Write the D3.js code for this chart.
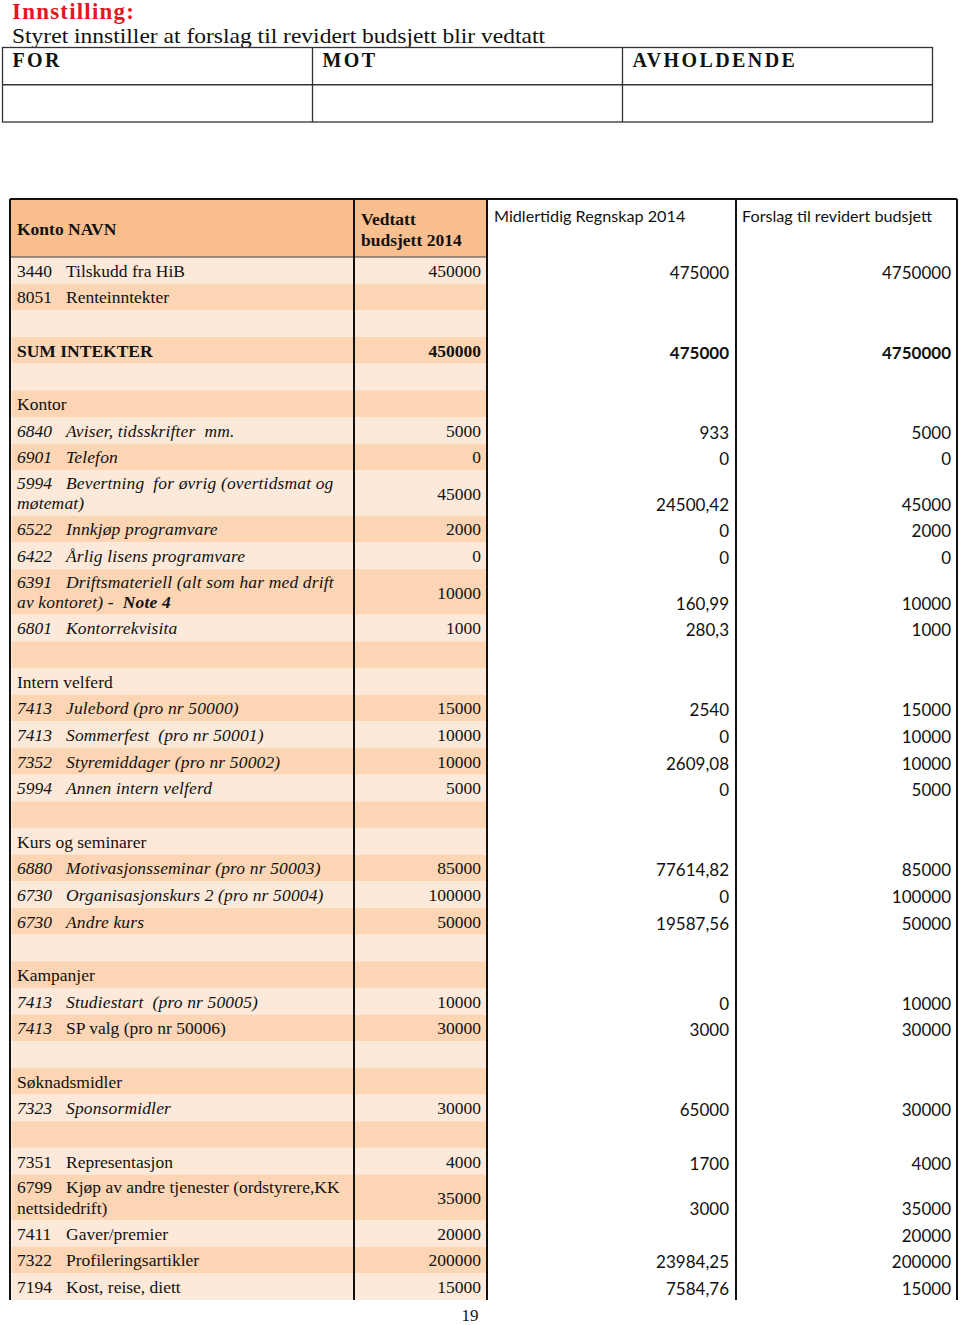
<!DOCTYPE html>
<html>
<head>
<meta charset="utf-8">
<script src="https://cdn.jsdelivr.net/npm/d3@7"></script>
<style>
  body { margin: 0; background: #fff; }
  svg text { white-space: pre; }
</style>
</head>
<body>
<svg id="page"></svg>
<script>
// --- data ---
const title = "Innstilling:";
const subtitle = "Styret innstiller at forslag til revidert budsjett blir vedtatt";
const voteLabels = ["FOR", "MOT", "AVHOLDENDE"];
const headers = ["Konto NAVN", "Vedtatt\nbudsjett 2014", "Midlertidig Regnskap 2014", "Forslag til revidert budsjett"];

const codes = ["3440", "8051", "", "", "", "",
  "6840", "6901", "5994", "6522", "6422", "6391", "6801", "", "",
  "7413", "7413", "7352", "5994", "", "",
  "6880", "6730", "6730", "", "",
  "7413", "7413", "", "",
  "7323", "",
  "7351", "6799", "7411", "7322", "7194"];

const names = ["Tilskudd fra HiB", "Renteinntekter", "", "SUM INTEKTER", "", "Kontor",
  "Aviser, tidsskrifter  mm.", "Telefon", "Bevertning  for øvrig (overtidsmat og\nmøtemat)",
  "Innkjøp programvare", "Årlig lisens programvare",
  "Driftsmateriell (alt som har med drift\nav kontoret) -  |Note 4", "Kontorrekvisita", "", "Intern velferd",
  "Julebord (pro nr 50000)", "Sommerfest  (pro nr 50001)", "Styremiddager (pro nr 50002)", "Annen intern velferd", "", "Kurs og seminarer",
  "Motivasjonsseminar (pro nr 50003)", "Organisasjonskurs 2 (pro nr 50004)", "Andre kurs", "", "Kampanjer",
  "Studiestart  (pro nr 50005)", "SP valg (pro nr 50006)", "", "Søknadsmidler",
  "Sponsormidler", "",
  "Representasjon", "Kjøp av andre tjenester (ordstyrere,KK\nnettsidedrift)", "Gaver/premier", "Profileringsartikler", "Kost, reise, diett"];

const vedtatt = [450000, null, null, 450000, null, null,
  5000, 0, 45000, 2000, 0, 10000, 1000, null, null,
  15000, 10000, 10000, 5000, null, null,
  85000, 100000, 50000, null, null,
  10000, 30000, null, null,
  30000, null,
  4000, 35000, 20000, 200000, 15000];

const midlertidig = [475000, null, null, 475000, null, null,
  933, 0, 24500.42, 0, 0, 160.99, 280.3, null, null,
  2540, 0, 2609.08, 0, null, null,
  77614.82, 0, 19587.56, null, null,
  0, 3000, null, null,
  65000, null,
  1700, 3000, null, 23984.25, 7584.76];

const forslag = [4750000, null, null, 4750000, null, null,
  5000, 0, 45000, 2000, 0, 10000, 1000, null, null,
  15000, 10000, 10000, 5000, null, null,
  85000, 100000, 50000, null, null,
  10000, 30000, null, null,
  30000, null,
  4000, 35000, 20000, 200000, 15000];

const pageNumber = "19";

// --- styling per row: n normal, i italic, c italic code only, b bold ---
const rowStyle = ["n", "n", "n", "b", "n", "n",
  "i", "i", "i", "i", "i", "i", "i", "n", "n",
  "i", "i", "i", "i", "n", "n",
  "i", "i", "i", "n", "n",
  "i", "c", "n", "n",
  "i", "n",
  "n", "n", "n", "n", "n"];

const W = 960, H = 1325;
const serif = "'Liberation Serif', 'Times New Roman', serif";
const sans = "Lato, 'Open Sans', sans-serif";
const bandLight = "#fde9d9", bandDark = "#fcd5b4", headFill = "#fabf8f";

const svg = d3.select("#page").attr("width", W).attr("height", H);

const fmt = v => v == null ? "" : String(v).replace(".", ",");

// top title
svg.append("text").attr("x", 12).attr("y", 19)
  .attr("font-family", serif).attr("font-size", 23).attr("font-weight", "bold")
  .attr("fill", "#e0191f").attr("letter-spacing", 1.2).text(title);
svg.append("text").attr("x", 12).attr("y", 43)
  .attr("font-family", serif).attr("font-size", 21).attr("fill", "#111")
  .attr("textLength", 533).attr("lengthAdjust", "spacingAndGlyphs").text(subtitle);

// vote table
const vx = d3.scaleBand().domain(voteLabels).range([2.5, 932.5]);
const vy = d3.scaleLinear().domain([0, 2]).range([47.5, 122]);
const vote = svg.append("g").attr("stroke", "#333").attr("stroke-width", 1.3).attr("fill", "none");
vote.append("rect").attr("x", vx.range()[0]).attr("y", vy(0))
  .attr("width", vx.range()[1] - vx.range()[0]).attr("height", vy(2) - vy(0));
vote.append("line").attr("x1", vx.range()[0]).attr("x2", vx.range()[1]).attr("y1", vy(1)).attr("y2", vy(1));
voteLabels.slice(1).forEach(l => vote.append("line").attr("x1", vx(l)).attr("x2", vx(l)).attr("y1", vy(0)).attr("y2", vy(2)));
svg.append("g").selectAll("text").data(voteLabels).join("text")
  .attr("x", d => vx(d) + 10).attr("y", 67)
  .attr("font-family", serif).attr("font-size", 20).attr("font-weight", "bold")
  .attr("letter-spacing", 2.4).attr("fill", "#111").text(d => d);

// main table geometry
const colEdges = [10, 354, 487, 736, 957];
const tableTop = 199, headBottom = 257, tableBottom = 1300;
const lineCount = names.map(n => n.split("\n").length);
const units = lineCount.map(c => c > 1 ? 1.707 : 1);
const ends = Array.from(d3.cumsum(units));
const starts = [0].concat(ends.slice(0, -1));
const y = d3.scaleLinear().domain([0, d3.sum(units)]).range([headBottom, tableBottom]);
const rows = names.map((n, i) => ({i, top: y(starts[i]), bottom: y(ends[i]), lines: n.split("\n")}));

// header fill and bands
svg.append("rect").attr("x", colEdges[0]).attr("y", tableTop)
  .attr("width", colEdges[2] - colEdges[0]).attr("height", headBottom - tableTop).attr("fill", headFill);
svg.append("g").selectAll("rect").data(rows).join("rect")
  .attr("x", colEdges[0] + 1.5).attr("width", colEdges[2] - colEdges[0] - 2.5)
  .attr("y", d => d.top).attr("height", d => d.bottom - d.top)
  .attr("fill", d => d.i % 2 === 0 ? bandLight : bandDark);

// rules
const rules = svg.append("g").attr("stroke", "#111");
rules.append("line").attr("x1", colEdges[0]).attr("x2", colEdges[4]).attr("y1", tableTop).attr("y2", tableTop).attr("stroke-width", 2);
rules.append("line").attr("x1", colEdges[0]).attr("x2", colEdges[2]).attr("y1", headBottom).attr("y2", headBottom).attr("stroke-width", 1.2).attr("stroke", "#444");
rules.selectAll("line.v").data(colEdges).join("line").attr("class", "v")
  .attr("x1", d => d).attr("x2", d => d).attr("y1", tableTop).attr("y2", tableBottom).attr("stroke-width", 2);

// headers
const head = svg.append("g").attr("fill", "#111");
head.append("text").attr("x", 17).attr("y", 235).attr("font-family", serif).attr("font-size", 17.5)
  .attr("font-weight", "bold").text(headers[0]);
headers[1].split("\n").forEach((t, k) => head.append("text").attr("x", 361).attr("y", 225 + k * 20.5)
  .attr("font-family", serif).attr("font-size", 17.5).attr("font-weight", "bold").text(t));
head.append("text").attr("x", 494).attr("y", 222).attr("font-family", sans).attr("font-size", 16.2).text(headers[2]);
head.append("text").attr("x", 742).attr("y", 222).attr("font-family", sans).attr("font-size", 16.2).text(headers[3]);

// body text
const body = svg.append("g").attr("fill", "#111").attr("font-family", serif).attr("font-size", 17.5);
rows.forEach(r => {
  const st = rowStyle[r.i];
  const double = r.lines.length > 1;
  const code = codes[r.i];
  r.lines.forEach((line, k) => {
    const by = double ? r.top + 18.5 + k * 20.5 : r.bottom - 7;
    if (k === 0 && code) {
      body.append("text").attr("x", 17).attr("y", by)
        .attr("font-style", st === "i" || st === "c" ? "italic" : "normal").text(code);
    }
    const t = body.append("text").attr("x", k === 0 && code ? 66 : 17).attr("y", by)
      .attr("font-style", st === "i" ? "italic" : "normal")
      .attr("letter-spacing", st === "i" ? 0.15 : 0)
      .attr("font-weight", st === "b" ? "bold" : "normal");
    line.split("|").forEach((part, p) => t.append("tspan").attr("font-weight", p > 0 ? "bold" : null).text(part));
  });
  const vy2 = double ? (r.top + r.bottom) / 2 + 7 : r.bottom - 7;
  body.append("text").attr("x", 481).attr("y", vy2).attr("text-anchor", "end")
    .attr("font-weight", st === "b" ? "bold" : "normal").text(fmt(vedtatt[r.i]));
  [[midlertidig, 729], [forslag, 951]].forEach(([arr, x]) => {
    body.append("text").attr("x", x).attr("y", r.bottom - 5).attr("text-anchor", "end")
      .attr("font-family", sans).attr("font-size", 17)
      .attr("font-weight", st === "b" ? "bold" : "normal").text(fmt(arr[r.i]));
  });
});

svg.append("text").attr("x", 470).attr("y", 1321).attr("text-anchor", "middle")
  .attr("font-family", serif).attr("font-size", 17).attr("fill", "#111").text(pageNumber);
</script>
</body>
</html>
